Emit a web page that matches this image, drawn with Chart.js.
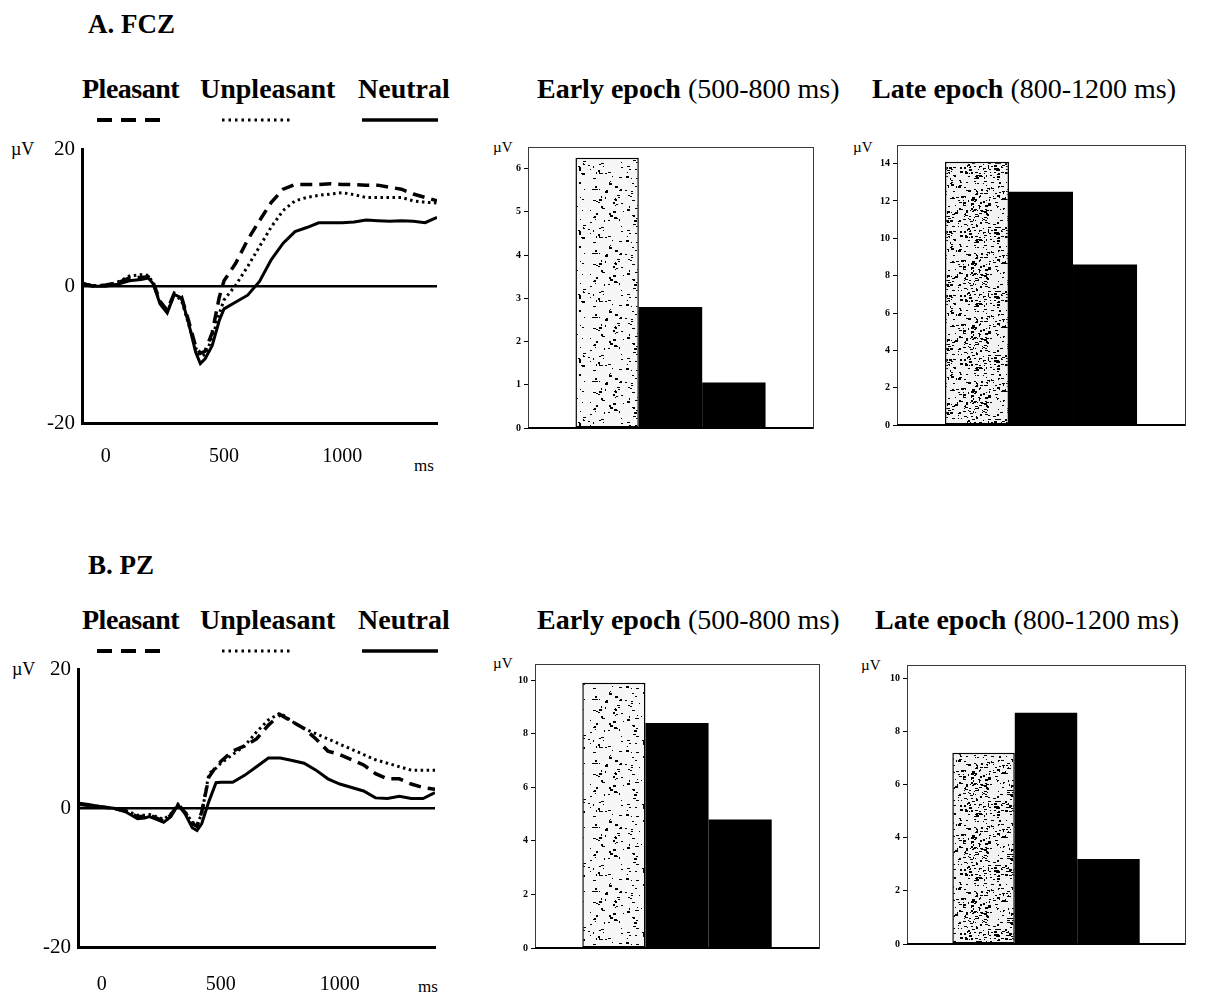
<!DOCTYPE html>
<html>
<head>
<meta charset="utf-8">
<script src="https://cdn.jsdelivr.net/npm/chart.js@4.4.1/dist/chart.umd.min.js"></script>
<style>
  html, body { margin: 0; padding: 0; background: #fff; }
  #page { position: relative; width: 1228px; height: 993px; overflow: hidden; background: #fff; font-family: "Liberation Serif", "DejaVu Serif", serif; color: #000; }
  .t { position: absolute; white-space: nowrap; line-height: 1; }
  .b { font-weight: bold; }
  .lg { font-size: 28px; font-weight: bold; }
  .hd { font-size: 27px; font-weight: bold; }
  .ep { font-size: 28px; }
  .uv { font-size: 18px; }
  .uvs { font-size: 15px; }
  .ms { font-size: 17px; }
  .cv { position: absolute; }
  svg { position: absolute; left: 0; top: 0; }
</style>
</head>
<body>
<div id="page">
  <div class="t hd" style="left:88px; top:11px;">A. FCZ</div>
  <div class="t lg" style="left:82px; top:75px; letter-spacing:-0.5px;">Pleasant</div>
  <div class="t lg" style="left:200px; top:75px;">Unpleasant</div>
  <div class="t lg" style="left:358px; top:75px;">Neutral</div>
  <div class="t ep" style="left:537px; top:75px;"><span class="b">Early epoch</span> (500-800 ms)</div>
  <div class="t ep" style="left:872px; top:75px;"><span class="b">Late epoch</span> (800-1200 ms)</div>

  <div class="t hd" style="left:88px; top:552px;">B. PZ</div>
  <div class="t lg" style="left:82px; top:606px; letter-spacing:-0.5px;">Pleasant</div>
  <div class="t lg" style="left:200px; top:606px;">Unpleasant</div>
  <div class="t lg" style="left:358px; top:606px;">Neutral</div>
  <div class="t ep" style="left:537px; top:606px;"><span class="b">Early epoch</span> (500-800 ms)</div>
  <div class="t ep" style="left:875px; top:606px;"><span class="b">Late epoch</span> (800-1200 ms)</div>

  <svg width="1228" height="993">
    <line x1="97" y1="120" x2="160" y2="120" stroke="#000" stroke-width="4" stroke-dasharray="15 9"/>
    <line x1="222" y1="120" x2="290" y2="120" stroke="#000" stroke-width="3" stroke-dasharray="2.5 4"/>
    <line x1="362" y1="120" x2="438" y2="120" stroke="#000" stroke-width="3.5"/>
    <line x1="97" y1="651" x2="160" y2="651" stroke="#000" stroke-width="4" stroke-dasharray="15 9"/>
    <line x1="222" y1="651" x2="290" y2="651" stroke="#000" stroke-width="3" stroke-dasharray="2.5 4"/>
    <line x1="362" y1="651" x2="438" y2="651" stroke="#000" stroke-width="3.5"/>
  </svg>

  <div class="t uv" style="left:11px; top:140px;">µV</div>
  <div class="t ms" style="left:414px; top:457px;">ms</div>
  <div class="t uv" style="left:12px; top:660px;">µV</div>
  <div class="t ms" style="left:418px; top:978px;">ms</div>

  <div class="t uvs" style="left:493px; top:140px;">µV</div>
  <div class="t uvs" style="left:853px; top:140px;">µV</div>
  <div class="t uvs" style="left:493px; top:656px;">µV</div>
  <div class="t uvs" style="left:861px; top:658px;">µV</div>

  <div class="cv" style="left:0px; top:130px;"><canvas id="erpA" width="445" height="350"></canvas></div>
  <div class="cv" style="left:0px; top:650px;"><canvas id="erpB" width="445" height="343"></canvas></div>
  <div class="cv" style="left:470px; top:130px;"><canvas id="barAE" width="360" height="320"></canvas></div>
  <div class="cv" style="left:840px; top:130px;"><canvas id="barAL" width="370" height="320"></canvas></div>
  <div class="cv" style="left:470px; top:640px;"><canvas id="barBE" width="360" height="330"></canvas></div>
  <div class="cv" style="left:840px; top:640px;"><canvas id="barBL" width="370" height="330"></canvas></div>
</div>

<script>
// ---------------- DATA ----------------
const times = [-100,-50,0,50,100,150,180,200,230,260,290,320,350,380,400,420,450,480,500,550,600,650,700,750,800,850,900,950,1000,1050,1100,1150,1200,1250,1300,1350,1400];

// A. FCZ waveforms (µV)
const fczPleasant   = [0.3,0,0.2,0.5,1.2,1.3,1.4,0.6,-2.2,-3.5,-1.0,-1.5,-5.0,-8.8,-9.8,-9.5,-6.8,-1.6,0.8,3.4,6.8,9.6,12.3,14.2,14.9,14.9,14.9,15.0,14.9,14.9,14.8,14.8,14.5,14.2,13.5,13.0,12.5];
const fczUnpleasant = [0.4,0.1,0.1,0.6,1.5,1.7,1.6,0.5,-2.4,-3.7,-1.3,-2.0,-5.5,-9.0,-10.2,-10.0,-7.6,-4.0,-2.0,0.2,2.9,5.8,8.7,11.1,12.5,13.0,13.3,13.5,13.7,13.4,13.0,13.0,13.0,13.0,12.5,12.3,12.2];
const fczNeutral    = [0.5,0,0,0.3,0.8,1.0,1.2,0.4,-2.6,-3.9,-1.2,-1.7,-5.3,-9.6,-11.3,-10.6,-8.7,-5.0,-3.3,-2.3,-1.3,0.7,3.9,6.3,8.0,8.6,9.3,9.3,9.3,9.4,9.7,9.6,9.5,9.6,9.5,9.3,10.1];

// B. PZ waveforms (µV)
const pzPleasant    = [0.6,0.4,0.2,0,-0.4,-1.2,-1.2,-1.0,-1.4,-1.8,-1.0,0.6,-0.6,-2.2,-2.6,-0.5,4.5,6.0,6.75,8.25,9.0,10.0,12.0,13.5,12.5,11.5,10.0,8.25,7.75,7.0,6.25,5.0,4.25,4.25,3.5,3.0,2.75];
const pzUnpleasant  = [0.7,0.4,0.2,0,-0.3,-1.0,-1.0,-0.9,-1.2,-1.6,-0.8,0.6,-0.5,-2.0,-2.4,-0.8,5.0,5.8,6.5,7.75,9.0,11.0,12.75,13.75,12.5,11.5,10.75,10.0,9.25,8.5,7.75,7.0,6.5,6.0,5.5,5.5,5.5];
const pzNeutral     = [0.75,0.5,0.2,0,-0.5,-1.5,-1.4,-1.2,-1.6,-2.0,-1.2,0.5,-0.8,-2.8,-3.2,-2.2,1.0,3.7,3.75,3.75,4.75,6.0,7.25,7.25,6.9,6.5,5.5,4.25,3.5,3.0,2.5,1.5,1.4,1.75,1.4,1.4,2.25];

const erpYTicks = [-20, 0, 20];
const erpXTicks = [0, 500, 1000];

// Mean amplitudes per epoch (µV): Pleasant, Unpleasant, Neutral
const conditions = ['Pleasant', 'Unpleasant', 'Neutral'];
const fczEarly = [6.25, 2.8, 1.05];
const fczLate  = [14.1, 12.5, 8.6];
const pzEarly  = [9.9, 8.4, 4.8];
const pzLate   = [7.2, 8.7, 3.2];

// ---------------- STYLE HELPERS ----------------
function ihash(n) {
  n = Math.imul(n ^ (n >>> 16), 0x45d9f3b);
  n = Math.imul(n ^ (n >>> 16), 0x45d9f3b);
  n ^= n >>> 16;
  return n >>> 0;
}
function makeStipple(count, bg, seed) {
  const S = 64;
  const c = document.createElement('canvas');
  c.width = S; c.height = S;
  const g = c.getContext('2d');
  g.fillStyle = bg; g.fillRect(0, 0, S, S);
  g.fillStyle = '#000';
  for (let k = 1; k <= count; k++) {
    const x = ihash(k * 2 + seed) % S;
    const y = ihash(k * 2 + 1 + seed * 3) % S;
    const w = 1 + (ihash(k + 977) % 3);
    const h = (ihash(k + 4111) % 4 === 0) ? 2 : 1;
    g.fillRect(x, y, w, h);
  }
  return g.createPattern(c, 'repeat');
}
const lightStipple = makeStipple(110, '#f7f7f7', 11);
const denseStipple = makeStipple(300, '#f2f2f2', 29);

const boxPlugin = {
  id: 'box',
  afterDraw(chart) {
    const a = chart.chartArea, ctx = chart.ctx;
    ctx.save();
    ctx.strokeStyle = '#3a3a3a';
    ctx.lineWidth = 1;
    ctx.strokeRect(Math.round(a.left) + 0.5, Math.round(a.top) + 0.5, Math.round(a.right - a.left), Math.round(a.bottom - a.top));
    ctx.strokeStyle = '#000';
    ctx.lineWidth = 2;
    ctx.beginPath();
    ctx.moveTo(a.left, a.bottom); ctx.lineTo(a.right, a.bottom);
    ctx.stroke();
    ctx.restore();
  }
};

function erpChart(id, pl, un, ne, geo) {
  const mk = (vals) => times.map((t, i) => ({ x: t, y: vals[i] }));
  new Chart(document.getElementById(id), {
    type: 'line',
    data: {
      datasets: [
        { label: 'Neutral', data: mk(ne), borderColor: '#000', borderWidth: 3, pointRadius: 0, tension: 0 },
        { label: 'Unpleasant', data: mk(un), borderColor: '#000', borderWidth: 3, borderDash: [2.5, 3.5], pointRadius: 0, tension: 0 },
        { label: 'Pleasant', data: mk(pl), borderColor: '#000', borderWidth: 3.5, borderDash: [12, 7], pointRadius: 0, tension: 0 }
      ]
    },
    options: {
      responsive: false, animation: false,
      layout: { padding: { top: geo.pt, right: geo.pr, left: 0, bottom: 0 } },
      plugins: { legend: { display: false }, tooltip: { enabled: false } },
      scales: {
        x: {
          type: 'linear', min: -100, max: 1400,
          afterBuildTicks: s => { s.ticks = erpXTicks.map(v => ({ value: v })); },
          afterFit: s => { s.height = geo.xh; },
          grid: { display: false },
          border: { display: true, color: '#000', width: 3 },
          ticks: { color: '#000', padding: geo.xpad, font: { family: 'Liberation Serif', size: 20 }, maxRotation: 0, callback: v => String(v) }
        },
        y: {
          min: -20, max: 20,
          afterBuildTicks: s => { s.ticks = erpYTicks.map(v => ({ value: v })); },
          afterFit: s => { s.width = geo.yw; },
          grid: { drawTicks: false, lineWidth: 2.5, color: c => (c.tick && c.tick.value === 0) ? '#000' : 'rgba(0,0,0,0)' },
          border: { display: true, color: '#000', width: 3 },
          ticks: { color: '#000', padding: 7, font: { family: 'Liberation Serif', size: 21 }, callback: v => String(v) }
        }
      }
    }
  });
}

function barChart(id, vals, max, step, pattern, geo) {
  new Chart(document.getElementById(id), {
    type: 'bar',
    data: {
      labels: [''],
      datasets: conditions.map((c, i) => ({
        label: c,
        data: [vals[i]],
        backgroundColor: i === 0 ? pattern : '#000',
        borderColor: '#000',
        borderWidth: i === 0 ? 1.5 : 0,
        borderSkipped: false,
        categoryPercentage: geo.cp,
        barPercentage: 1.0
      }))
    },
    options: {
      responsive: false, animation: false,
      layout: { padding: { top: geo.pt, right: geo.pr, left: 0, bottom: 0 } },
      plugins: { legend: { display: false }, tooltip: { enabled: false } },
      scales: {
        x: {
          afterFit: s => { s.height = geo.xh; },
          grid: { display: false },
          border: { display: false },
          ticks: { display: false }
        },
        y: {
          min: 0, max: max,
          ticks: { stepSize: step, color: '#000', padding: 3, font: { family: 'Liberation Serif', size: 10, weight: 'bold' } },
          afterBuildTicks: s => { s.ticks = s.ticks.filter(t => Math.abs(t.value / step - Math.round(t.value / step)) < 1e-6); },
          afterFit: s => { s.width = geo.yw; },
          grid: { drawOnChartArea: false, drawTicks: true, tickLength: 4, color: '#000', lineWidth: 1 },
          border: { display: false }
        }
      }
    },
    plugins: [boxPlugin]
  });
}

erpChart('erpA', fczPleasant, fczUnpleasant, fczNeutral, { pt: 17, pr: 8, xh: 57, yw: 82, xpad: 14 });
erpChart('erpB', pzPleasant, pzUnpleasant, pzNeutral, { pt: 18, pr: 10, xh: 46, yw: 78, xpad: 18 });

barChart('barAE', fczEarly, 6.5, 1, lightStipple, { pt: 17, pr: 17, xh: 22, yw: 58, cp: 0.667 });
barChart('barAL', fczLate, 15, 2, denseStipple, { pt: 15, pr: 25, xh: 25, yw: 57, cp: 0.667 });
barChart('barBE', pzEarly, 10.6, 2, lightStipple, { pt: 24, pr: 11, xh: 22, yw: 65, cp: 0.667 });
barChart('barBL', pzLate, 10.5, 2, denseStipple, { pt: 25, pr: 25, xh: 26, yw: 67, cp: 0.674 });
</script>
</body>
</html>
